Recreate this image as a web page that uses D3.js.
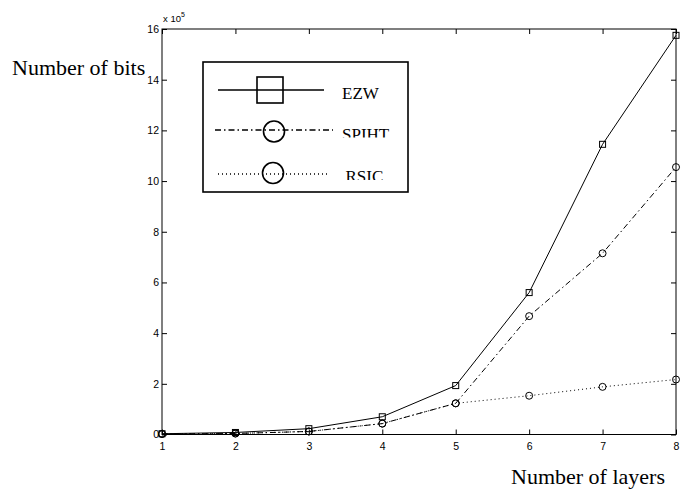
<!DOCTYPE html>
<html>
<head>
<meta charset="utf-8">
<script src="https://cdn.jsdelivr.net/npm/d3@7"></script>
<style>
  body { margin: 0; background: #fff; }
  svg { display: block; }
  .tick text { font-family: "Liberation Sans", Arial, sans-serif; font-size: 10.5px; fill: #000; }
  .tick line { stroke: #000; }
  .lbl { font-family: "Liberation Serif", "Times New Roman", serif; fill: #000; }
</style>
</head>
<body>
<div id="chart"></div>
<script>
const W = 681, H = 492;

// layers on x, bits (x 10^5) on y
const layers = [1, 2, 3, 4, 5, 6, 7, 8];
const ezw   = [0.03, 0.08, 0.23, 0.70, 1.93, 5.60, 11.45, 15.75];
const spiht = [0.02, 0.04, 0.12, 0.43, 1.23, 4.67, 7.15, 10.55];
const rsic  = [0.02, 0.04, 0.12, 0.43, 1.23, 1.53, 1.88, 2.17];
const yTicks = [0, 2, 4, 6, 8, 10, 12, 14, 16];
const seriesNames = ["EZW", "SPIHT", "RSIC"];

const svg = d3.select("#chart").append("svg").attr("width", W).attr("height", H);

const x = d3.scaleLinear().domain([1, 8]).range([162, 676]);
const y = d3.scaleLinear().domain([0, 16]).range([434.5, 29]);

// axes - ticks pointing inwards on all 4 sides
svg.append("g").attr("transform", `translate(0,${y(0)})`)
  .call(d3.axisBottom(x).tickValues(layers).tickFormat(d3.format("d"))
    .tickSizeInner(-5).tickSizeOuter(0).tickPadding(8.5));
svg.append("g").attr("transform", `translate(0,${y(16)})`)
  .call(d3.axisTop(x).tickValues(layers).tickFormat("")
    .tickSizeInner(-5).tickSizeOuter(0));
svg.append("g").attr("transform", `translate(${x(1)},0)`)
  .call(d3.axisLeft(y).tickValues(yTicks).tickFormat(d3.format("d"))
    .tickSizeInner(-5).tickSizeOuter(0).tickPadding(3));
svg.append("g").attr("transform", `translate(${x(8)},0)`)
  .call(d3.axisRight(y).tickValues(yTicks).tickFormat("")
    .tickSizeInner(-5).tickSizeOuter(0));
svg.selectAll(".domain").remove();

svg.append("rect")
  .attr("x", x(1)).attr("y", y(16))
  .attr("width", x(8) - x(1)).attr("height", y(0) - y(16))
  .attr("fill", "none").attr("stroke", "#000").attr("stroke-width", 1);

// exponent label
const expo = svg.append("text")
  .attr("x", 163).attr("y", 22)
  .style("font-family", "Liberation Sans, Arial, sans-serif")
  .style("font-size", "9.5px");
expo.append("tspan").text("x 10");
expo.append("tspan").attr("dy", -5).style("font-size", "7px").text("5");

const line = d3.line().x((d, i) => x(layers[i])).y(d => y(d));

const styles = [
  { data: ezw, dash: null, marker: "square" },
  { data: spiht, dash: "6,3,1.5,3", marker: "circle" },
  { data: rsic, dash: "1,3", marker: "circle" }
];

styles.forEach(s => {
  svg.append("path")
    .datum(s.data)
    .attr("d", line)
    .attr("fill", "none")
    .attr("stroke", "#000")
    .attr("stroke-width", 1)
    .attr("stroke-dasharray", s.dash);

  if (s.marker === "square") {
    svg.selectAll(null).data(s.data).enter().append("rect")
      .attr("x", (d, i) => x(layers[i]) - 3)
      .attr("y", d => y(d) - 3)
      .attr("width", 6).attr("height", 6)
      .attr("fill", "none").attr("stroke", "#000");
  } else {
    svg.selectAll(null).data(s.data).enter().append("circle")
      .attr("cx", (d, i) => x(layers[i]))
      .attr("cy", d => y(d))
      .attr("r", 3.5)
      .attr("fill", "none").attr("stroke", "#000");
  }
});

// legend box
const leg = svg.append("g");
leg.append("rect")
  .attr("x", 203).attr("y", 62).attr("width", 205).attr("height", 130)
  .attr("fill", "#fff").attr("stroke", "#000").attr("stroke-width", 1.6);

const defs = svg.append("defs");
const legRows = [
  { y: 90, x1: 218, x2: 324, mx: 270, my: 90, tx: 342, ty: 99, clip: null },
  { y: 130, x1: 215, x2: 333, mx: 274, my: 131.5, tx: 342, ty: 139.5, clip: 137.5 },
  { y: 174, x1: 218, x2: 330, mx: 273, my: 173, tx: 345.5, ty: 182, clip: 180 }
];

legRows.forEach((r, i) => {
  leg.append("line")
    .attr("x1", r.x1).attr("x2", r.x2).attr("y1", r.y).attr("y2", r.y)
    .attr("stroke", "#000").attr("stroke-width", 1.3)
    .attr("stroke-dasharray", styles[i].dash);
  if (styles[i].marker === "square") {
    leg.append("rect")
      .attr("x", r.mx - 13).attr("y", r.my - 13).attr("width", 26).attr("height", 26)
      .attr("fill", "none").attr("stroke", "#000").attr("stroke-width", 1.6);
  } else {
    leg.append("circle")
      .attr("cx", r.mx).attr("cy", r.my).attr("r", 10.5)
      .attr("fill", "none").attr("stroke", "#000").attr("stroke-width", 1.6);
  }
  const t = leg.append("text")
    .attr("class", "lbl")
    .attr("x", r.tx).attr("y", r.ty)
    .style("font-size", "17px")
    .text(seriesNames[i]);
  if (r.clip) {
    defs.append("clipPath").attr("id", "clip" + i)
      .append("rect").attr("x", r.tx - 5).attr("y", r.clip - 20)
      .attr("width", 80).attr("height", 20);
    t.attr("clip-path", `url(#clip${i})`);
  }
});

// axis titles
svg.append("text").attr("class", "lbl")
  .attr("x", 12).attr("y", 75)
  .style("font-size", "22px")
  .text("Number of bits");

svg.append("text").attr("class", "lbl")
  .attr("x", 511).attr("y", 484)
  .style("font-size", "22px")
  .text("Number of layers");
</script>
</body>
</html>
